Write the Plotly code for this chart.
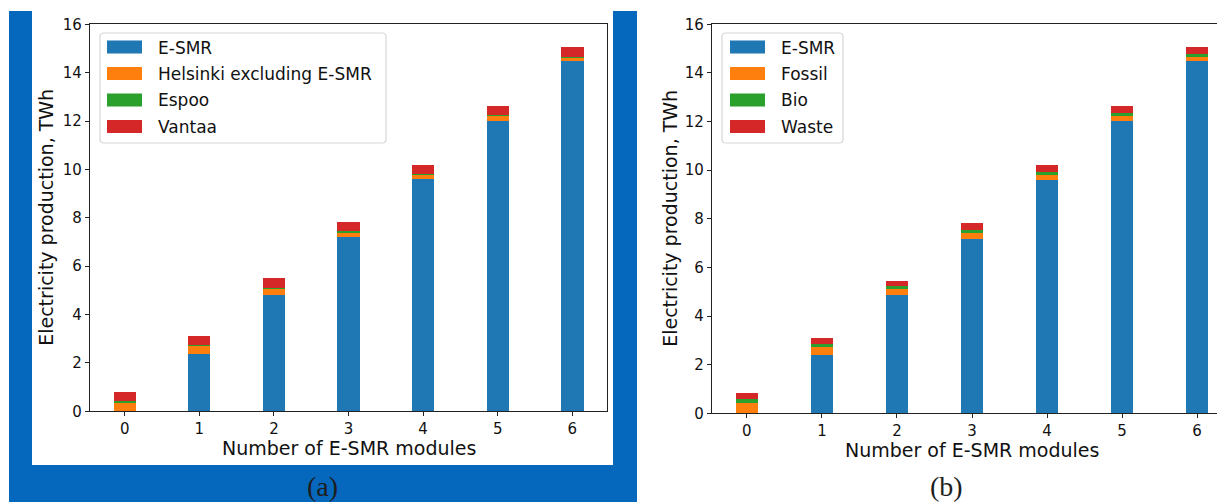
import plotly.graph_objects as go

# ---------------- data ----------------
modules = [0, 1, 2, 3, 4, 5, 6]
tick_labels = ["0", "1", "2", "3", "4", "5", "6"]
y_ticks = [0, 2, 4, 6, 8, 10, 12, 14, 16]

# panel (a)
names_a = ["E-SMR", "Helsinki excluding E-SMR", "Espoo", "Vantaa"]
esmr_a = [0.0, 2.36, 4.80, 7.20, 9.58, 12.00, 14.45]
helsinki_excl = [0.36, 0.33, 0.25, 0.20, 0.19, 0.20, 0.16]
espoo = [0.04, 0.04, 0.04, 0.03, 0.03, 0.02, 0.02]
vantaa = [0.40, 0.38, 0.39, 0.39, 0.38, 0.39, 0.42]

# panel (b)
names_b = ["E-SMR", "Fossil", "Bio", "Waste"]
esmr_b = [0.0, 2.39, 4.84, 7.17, 9.60, 12.02, 14.46]
fossil = [0.41, 0.31, 0.25, 0.23, 0.19, 0.20, 0.18]
bio = [0.18, 0.15, 0.13, 0.14, 0.12, 0.12, 0.13]
waste = [0.22, 0.25, 0.23, 0.28, 0.28, 0.27, 0.27]

colors = ["#1f77b4", "#ff7f0e", "#2ca02c", "#d62728"]

x_title = "Number of E-SMR modules"
y_title = "Electricity production, TWh"
panel_labels = ["(a)", "(b)"]

# ---------------- layout helpers ----------------
W, H = 1225, 502
OX, OY = 8, 8          # default page (body) margin around the plot div
FONT = "DejaVu Sans"


def px(x):
    return (x - OX) / W


def py(y):
    return (H + OY - y) / H


fig = go.Figure()

series_a = [esmr_a, helsinki_excl, espoo, vantaa]
series_b = [esmr_b, fossil, bio, waste]

for name, vals, col in zip(names_a, series_a, colors):
    fig.add_trace(go.Bar(x=modules, y=vals, name=name, width=0.3,
                         marker=dict(color=col, line=dict(width=0)),
                         xaxis="x", yaxis="y", showlegend=False))
for name, vals, col in zip(names_b, series_b, colors):
    fig.add_trace(go.Bar(x=modules, y=vals, name=name, width=0.3,
                         marker=dict(color=col, line=dict(width=0)),
                         xaxis="x2", yaxis="y2", showlegend=False))

axis_common = dict(
    showgrid=False, zeroline=False, showline=True, linecolor="#222222",
    linewidth=1.2, ticks="outside", ticklen=4, tickwidth=1.1,
    tickcolor="#222222", tickfont=dict(family=FONT, size=15, color="#111111"),
    automargin=False,
)

# panel geometry (reference pixels)
a_left, a_right, a_top, a_bottom = 90, 607, 24.3, 411.3
b_left, b_right, b_top, b_bottom = 712, 1232, 24.3, 413.3

fig.update_layout(
    width=W, height=H,
    margin=dict(l=0, r=0, t=0, b=0, pad=0, autoexpand=False),
    paper_bgcolor="white", plot_bgcolor="white",
    barmode="stack", bargap=0,
    xaxis=dict(domain=[px(a_left), px(a_right)], range=[-0.465, 6.465],
               tickmode="array", tickvals=modules, ticktext=tick_labels,
               mirror=True, anchor="y", **axis_common),
    yaxis=dict(domain=[py(a_bottom), py(a_top)], range=[0, 16],
               tickmode="array", tickvals=y_ticks,
               ticktext=[str(v) for v in y_ticks],
               mirror=True, anchor="x", **axis_common),
    xaxis2=dict(domain=[px(b_left), min(1.0, px(b_right))],
                range=[-0.465, 6.465],
                tickmode="array", tickvals=modules, ticktext=tick_labels,
                mirror=True, anchor="y2", **axis_common),
    yaxis2=dict(domain=[py(b_bottom), py(b_top)], range=[0, 16],
                tickmode="array", tickvals=y_ticks,
                ticktext=[str(v) for v in y_ticks],
                mirror=True, anchor="x2", **axis_common),
    showlegend=False,
)

shapes = []
annotations = []

# blue frame behind panel (a) and white inner card
shapes.append(dict(type="rect", xref="paper", yref="paper",
                   x0=px(9), x1=px(637), y0=0, y1=py(11),
                   fillcolor="#0568BD", line=dict(width=0), layer="below"))
shapes.append(dict(type="rect", xref="paper", yref="paper",
                   x0=px(32), x1=px(613), y0=py(465), y1=py(11),
                   fillcolor="white", line=dict(width=0), layer="below"))


def rounded_box(x0, y0, x1, y1, r=4):
    def P(x, y):
        return f"{px(x):.6f},{py(y):.6f}"
    return ("M " + P(x0 + r, y0) + " L " + P(x1 - r, y0) +
            " Q " + P(x1, y0) + " " + P(x1, y0 + r) +
            " L " + P(x1, y1 - r) +
            " Q " + P(x1, y1) + " " + P(x1 - r, y1) +
            " L " + P(x0 + r, y1) +
            " Q " + P(x0, y1) + " " + P(x0, y1 - r) +
            " L " + P(x0, y0 + r) +
            " Q " + P(x0, y0) + " " + P(x0 + r, y0) + " Z")


def add_legend(box, patch_x0, text_x, names):
    bx0, by0, bx1, by1 = box
    shapes.append(dict(type="path", xref="paper", yref="paper",
                       path=rounded_box(bx0, by0, bx1, by1),
                       fillcolor="rgba(255,255,255,0.85)",
                       line=dict(color="#d6d6d6", width=1.2)))
    rows = [47, 73.5, 100, 126.5]
    for name, col, yc in zip(names, colors, rows):
        shapes.append(dict(type="rect", xref="paper", yref="paper",
                           x0=px(patch_x0), x1=px(patch_x0 + 35),
                           y0=py(yc + 6.5), y1=py(yc - 6.5),
                           fillcolor=col, line=dict(width=0)))
        annotations.append(dict(xref="paper", yref="paper",
                                x=px(text_x), y=py(yc + 0.5),
                                xanchor="left", yanchor="middle",
                                text=name, showarrow=False,
                                font=dict(family=FONT, size=17,
                                          color="#111111")))


add_legend((100, 33, 386, 143), 107, 156, names_a)
add_legend((722, 33, 843, 143), 730, 779, names_b)

# axis titles
for xc, yc in [((a_left + a_right) / 2, 448), ((b_left + b_right) / 2, 450)]:
    annotations.append(dict(xref="paper", yref="paper", x=px(xc), y=py(yc),
                            xanchor="center", yanchor="middle",
                            text=x_title, showarrow=False,
                            font=dict(family=FONT, size=19, color="#111111")))
for xc, yc in [(46, (a_top + a_bottom) / 2), (670, (b_top + b_bottom) / 2)]:
    annotations.append(dict(xref="paper", yref="paper", x=px(xc), y=py(yc),
                            xanchor="center", yanchor="middle",
                            text=y_title, showarrow=False, textangle=-90,
                            font=dict(family=FONT, size=19, color="#111111")))

# panel labels
for lab, xc in zip(panel_labels, [322, 946]):
    annotations.append(dict(xref="paper", yref="paper", x=px(xc), y=py(486),
                            xanchor="center", yanchor="middle",
                            text=lab, showarrow=False,
                            font=dict(family="Liberation Serif", size=28,
                                      color="#1e1e1e")))

fig.update_layout(shapes=shapes, annotations=annotations)

fig.write_html("out.html")
